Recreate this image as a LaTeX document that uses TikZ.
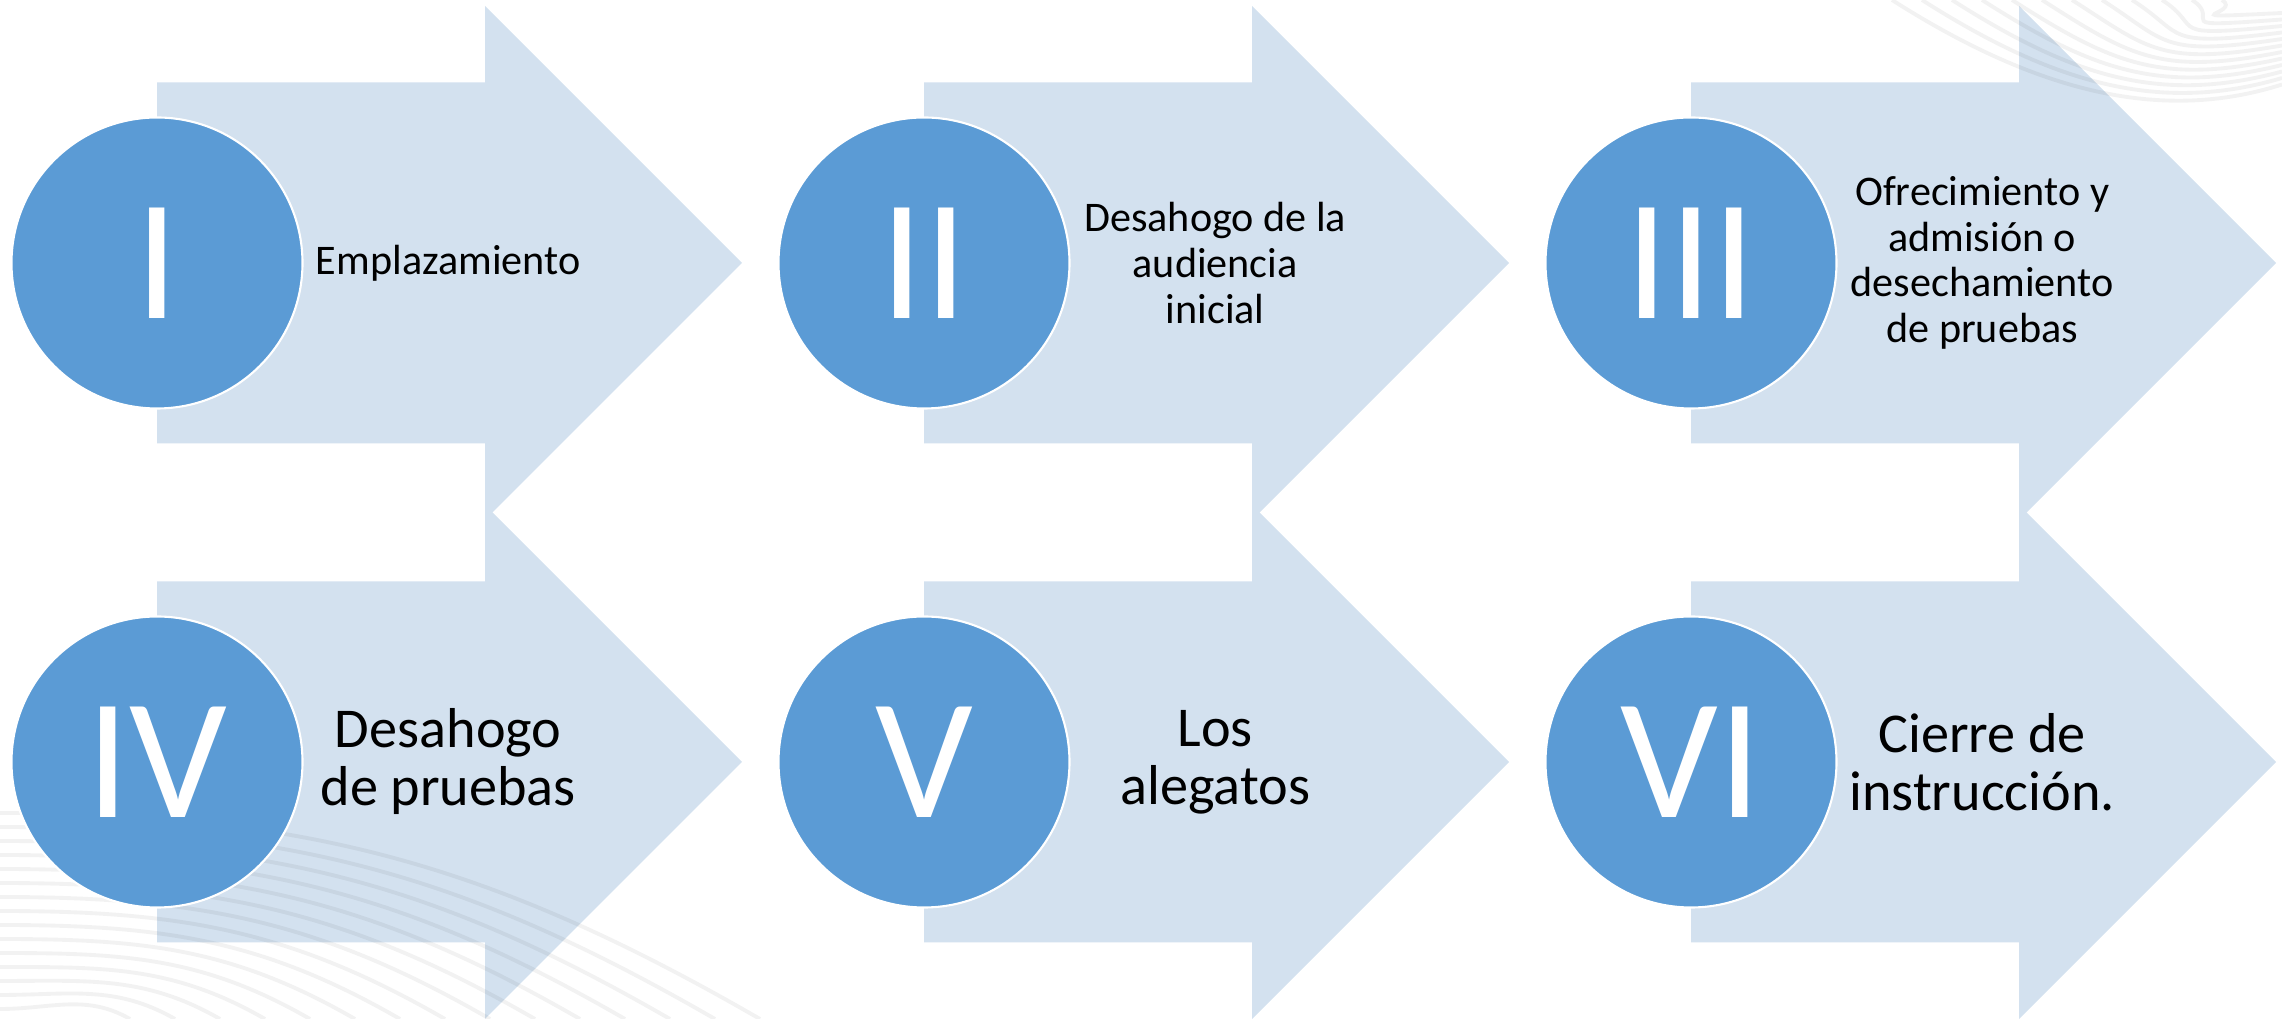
\documentclass[tikz,border=0pt]{standalone}
\usepackage{fontspec}
\setmainfont{Carlito}
\usepackage{tikz}
\usetikzlibrary{positioning, backgrounds}
\definecolor{stageblue}{HTML}{5B9BD5}
\definecolor{arrowblue}{HTML}{D3E1EF}
\tikzstyle{stage} = [circle, minimum size=2.91cm, inner sep=0pt, outer sep=0pt, fill=stageblue, draw=white, line width=0.6pt, text=white, font=\fontsize{49}{49}\selectfont]
\tikzstyle{stagetext} = [text width=2.9cm, inner sep=0pt, align=flush center, font=\fontsize{12}{13}\selectfont]
\tikzstyle{stagetextbig} = [text width=2.9cm, inner sep=0pt, align=flush center, font=\fontsize{16}{16.5}\selectfont]
\tikzstyle{chevron} = [fill=arrowblue]
\tikzstyle{wave} = [draw=black, draw opacity=0.05, line width=1.1pt]

\begin{document}
\begin{tikzpicture}[node distance=4.76cm]
\useasboundingbox (0,0) rectangle (22.82,10.19);

% First row of stages
\node (c1) [stage] at (1.57,7.56) {I};
\node (c2) [stage, right=of c1] {II};
\node (c3) [stage, right=of c2] {III};

% Second row of stages
\node (c4) [stage, below=2.08cm of c1] {IV};
\node (c5) [stage, right=of c4] {V};
\node (c6) [stage, right=of c5] {VI};

% Texts beside the circles
\node (t1) [stagetext, right=0cm of c1] {Emplazamiento};
\node (t2) [stagetext, right=0cm of c2] {Desahogo de la\\audiencia\\inicial};
\node (t3) [stagetext, right=0cm of c3] {Ofrecimiento y\\admisión o\\desechamiento\\de pruebas};
\node (t4) [stagetextbig, right=0cm of c4] {Desahogo\\de pruebas};
\node (t5) [stagetextbig, right=0cm of c5] {Los\\alegatos};
\node (t6) [stagetextbig, right=0cm of c6] {Cierre de\\instrucción.};

% Big arrows behind the circles
\begin{scope}[on background layer]
\foreach \n in {1,...,6}
  \fill [chevron] (c\n) ++(0,1.805) -- ++(3.28,0) -- ++(0,0.765) -- ++(2.57,-2.57)
    -- ++(-2.57,-2.57) -- ++(0,0.765) -- ++(-3.28,0) -- cycle;

% Faint waves in the corners
\foreach \i in {2,...,13}
  \draw [wave] ({22.82-0.3*\i},10.19) .. controls ({22.82-0.19*\i},{10.19-0.07*\i}) and (21.6,{10.19-0.095*\i}) .. (22.82,{10.19-0.065*\i});
\foreach \i in {0,...,14}
  \draw [wave] (0,{2.06-0.14*\i}) to[out=0,in=150] ({7.6-0.45*\i},0);
\end{scope}

\end{tikzpicture}
\end{document}
